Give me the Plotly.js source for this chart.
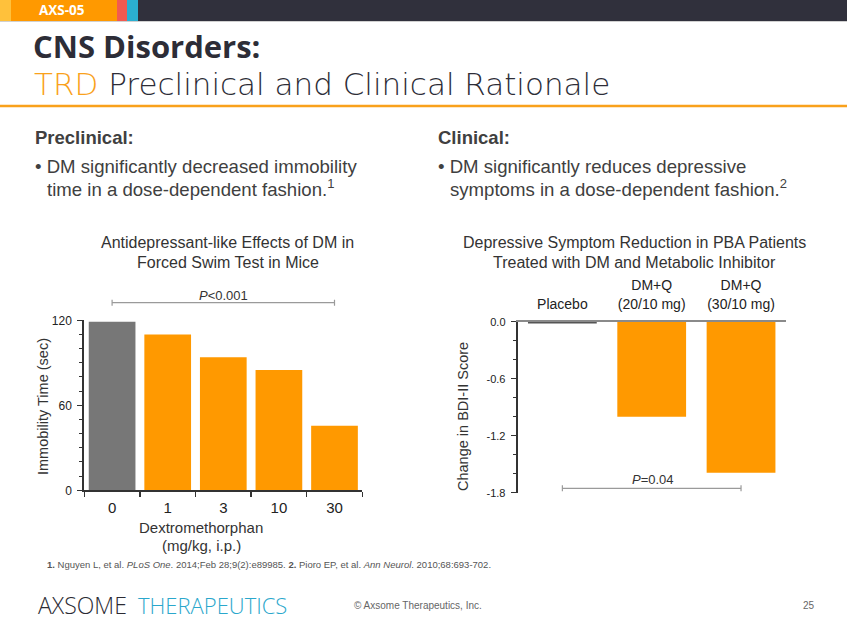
<!DOCTYPE html>
<html><head><meta charset="utf-8">
<script src="https://cdn.plot.ly/plotly-3.0.1.min.js"></script>
<style>html,body{margin:0;padding:0;background:#fff;overflow:hidden}#chart{width:847px;height:635px}</style>
</head><body><div id="chart"></div>
<script>
// ---- data ----
const leftCats = ['0', '1', '3', '10', '30'];
const leftValues = [119, 110, 94, 85, 45.5];
const leftColors = ['#777777', '#FF9900', '#FF9900', '#FF9900', '#FF9900'];
const leftYTicks = [0, 60, 120];
const rightCats = ['Placebo', 'DM+Q<br>(20/10 mg)', 'DM+Q<br>(30/10 mg)'];
const rightValues = [-0.02, -1.0, -1.59];
const rightColors = ['#555555', '#FF9900', '#FF9900'];
const rightYTicks = [0, -0.6, -1.2, -1.8];
const rightYTickText = ['0.0', '-0.6', '-1.2', '-1.8'];

// ---- helpers ----
const W = 847, H = 635;
const P = x => x / W;
const Q = y => 1 - y / H;
const ARIAL = 'Liberation Sans, Arial, sans-serif';
const GOTH = 'Open Sans, Lato, sans-serif';
const WIDE = 'DejaVu Sans, Open Sans, sans-serif';

function txt(text, x, y, opts) {
  opts = opts || {};
  return Object.assign({
    text: text, xref: 'paper', yref: 'paper', x: P(x), y: Q(y),
    xanchor: opts.xa || 'left', yanchor: 'middle', showarrow: false,
    textangle: opts.angle || 0,
    font: {family: opts.family || ARIAL, size: opts.size || 15, color: opts.color || '#333', weight: opts.weight || 'normal'}
  }, opts.extra || {});
}

const traces = [
  {type: 'bar', x: leftCats, y: leftValues, xaxis: 'x', yaxis: 'y', width: 0.84,
   marker: {color: leftColors, line: {width: 0}}, hoverinfo: 'skip'},
  {type: 'bar', x: rightCats, y: rightValues, xaxis: 'x2', yaxis: 'y2', width: 0.77,
   marker: {color: rightColors, line: {width: 0}}, hoverinfo: 'skip'}
];

const annotations = [
  txt('AXS-05', 62, 10.5, {xa: 'center', size: 13.5, color: '#fff', weight: 'bold', family: GOTH}),
  txt('CNS Disorders:', 31, 45.5, {size: 31, color: '#2D2D37', weight: 'bold', family: GOTH}),
  txt('<span style="color:#F9A11B">TRD</span> Preclinical and Clinical Rationale', 32, 84.5, {size: 31, color: '#2D2D37', weight: 200, family: WIDE}),
  txt('Preclinical:', 33, 138, {size: 18.5, color: '#404040', weight: 'bold'}),
  txt('• DM significantly decreased immobility', 33, 166, {size: 18.6, color: '#404040'}),
  txt('time in a dose-dependent fashion.<sup>1</sup>', 45, 188, {size: 18.6, color: '#404040'}),
  txt('Clinical:', 436, 138, {size: 18.5, color: '#404040', weight: 'bold'}),
  txt('• DM significantly reduces depressive', 436, 166, {size: 18.6, color: '#404040'}),
  txt('symptoms in a dose-dependent fashion.<sup>2</sup>', 448, 188, {size: 18.6, color: '#404040'}),
  txt('Antidepressant-like Effects of DM in', 227.5, 242, {xa: 'center', size: 16}),
  txt('Forced Swim Test in Mice', 227.5, 262, {xa: 'center', size: 16}),
  txt('Depressive Symptom Reduction in PBA Patients', 634.5, 242, {xa: 'center', size: 16}),
  txt('Treated with DM and Metabolic Inhibitor', 634.5, 262, {xa: 'center', size: 16}),
  txt('<i>P</i>&lt;0.001', 223, 295, {xa: 'center', size: 13, color: '#333'}),
  txt('<i>P</i>=0.04', 653, 479.5, {xa: 'center', size: 13, color: '#333'}),
  txt('Immobility Time (sec)', 43, 407, {xa: 'center', size: 14.5, angle: -90}),
  txt('Change in BDI-II Score', 463, 417, {xa: 'center', size: 14.5, angle: -90}),
  txt('Dextromethorphan', 201, 527.5, {xa: 'center', size: 15}),
  txt('(mg/kg, i.p.)', 201, 545, {xa: 'center', size: 15}),
  txt('<b>1.</b> Nguyen L, et al. <i>PLoS One</i>. 2014;Feb 28;9(2):e89985. <b>2.</b> Pioro EP, et al. <i>Ann Neurol</i>. 2010;68:693-702.', 45, 564, {size: 9.5, color: '#555'}),
  txt('AXSOME', 36, 605, {size: 23, color: '#2B2B33', weight: 300, family: GOTH}),
  txt('THERAPEUTICS', 136, 605, {size: 22, color: '#2AA7CC', weight: 300, family: GOTH}),
  txt('© Axsome Therapeutics, Inc.', 352, 605, {size: 10, color: '#666'}),
  txt('25', 817, 605, {xa: 'right', size: 10, color: '#666'})
];

function rect(x0, x1, y0, y1, color) {
  return {type: 'rect', xref: 'paper', yref: 'paper', x0: P(x0), x1: P(x1), y0: Q(y1), y1: Q(y0),
          fillcolor: color, line: {width: 0}, layer: 'below'};
}
function bracket(xr, a, b, yPix) {
  const col = '#9a9a9a', h = 3;
  return [
    {type: 'line', xref: xr, yref: 'paper', x0: a, x1: b, y0: Q(yPix), y1: Q(yPix), line: {color: col, width: 1.2}},
    {type: 'line', xref: xr, yref: 'paper', x0: a, x1: a, y0: Q(yPix - h), y1: Q(yPix + h), line: {color: col, width: 1.2}},
    {type: 'line', xref: xr, yref: 'paper', x0: b, x1: b, y0: Q(yPix - h), y1: Q(yPix + h), line: {color: col, width: 1.2}}
  ];
}

const shapes = [
  rect(0, 847, 0, 21, '#30303C'),
  rect(0, 11, 0, 21, '#FFC13B'),
  rect(11, 117, 0, 21, '#FF9900'),
  rect(117, 127, 0, 21, '#F25A50'),
  rect(127, 138, 0, 21, '#2BAFD1'),
  {type: 'line', xref: 'paper', yref: 'paper', x0: 0, x1: 1, y0: Q(21.5), y1: Q(21.5), line: {color: '#d0d0d0', width: 1}},
  {type: 'line', xref: 'paper', yref: 'paper', x0: 0, x1: 1, y0: Q(106), y1: Q(106), line: {color: '#F9A11B', width: 2.5}}
].concat(bracket('x', 0, leftCats.length - 1, 302.7), bracket('x2', 0, rightCats.length - 1, 488.3));

const layout = {
  width: W, height: H, margin: {l: 0, r: 0, t: 0, b: 0},
  paper_bgcolor: '#fff', plot_bgcolor: 'rgba(0,0,0,0)', showlegend: false,
  font: {family: ARIAL, color: '#333'},
  xaxis: {domain: [P(84.3), P(362.3)], anchor: 'y', type: 'category', range: [-0.5, 4.5],
          tickson: 'boundaries', ticks: 'outside', ticklen: 5, tickwidth: 1.5, tickcolor: '#333',
          showline: true, linecolor: '#333', linewidth: 2, showgrid: false, zeroline: false,
          tickfont: {size: 15, color: '#222', family: ARIAL}, ticklabelstandoff: 3},
  yaxis: {domain: [Q(490.3), Q(320.3)], anchor: 'x', range: [0, 120],
          tickmode: 'array', tickvals: leftYTicks, ticks: 'outside', ticklen: 5, tickwidth: 1.2, tickcolor: '#333',
          minor: {tickmode: 'linear', tick0: 0, dtick: 10, ticks: 'outside', ticklen: 3, tickwidth: 1, tickcolor: '#333'},
          showline: true, linecolor: '#333', linewidth: 2, showgrid: false, zeroline: false,
          tickfont: {size: 12, color: '#222', family: ARIAL}, ticklabelstandoff: 3},
  xaxis2: {domain: [P(517.7), P(785.7)], anchor: 'y2', type: 'category', range: [-0.5, 2.5], side: 'top',
           ticks: '', showline: true, linecolor: '#8a8a8a', linewidth: 1.5, showgrid: false, zeroline: false,
           tickfont: {size: 14, color: '#222', family: ARIAL}, ticklabelstandoff: 6},
  yaxis2: {domain: [Q(492.7), Q(321.7)], anchor: 'x2', range: [-1.8, 0],
           tickmode: 'array', tickvals: rightYTicks, ticktext: rightYTickText,
           ticks: 'outside', ticklen: 5, tickwidth: 1.2, tickcolor: '#333',
           minor: {tickmode: 'linear', tick0: 0, dtick: 0.2, ticks: 'outside', ticklen: 3, tickwidth: 1, tickcolor: '#333'},
           showline: true, linecolor: '#333', linewidth: 2, showgrid: false, zeroline: false,
           tickfont: {size: 11, color: '#222', family: ARIAL}, ticklabelstandoff: 3},
  annotations: annotations,
  shapes: shapes
};

Plotly.newPlot('chart', traces, layout, {staticPlot: true, displayModeBar: false});
</script>
</body></html>
